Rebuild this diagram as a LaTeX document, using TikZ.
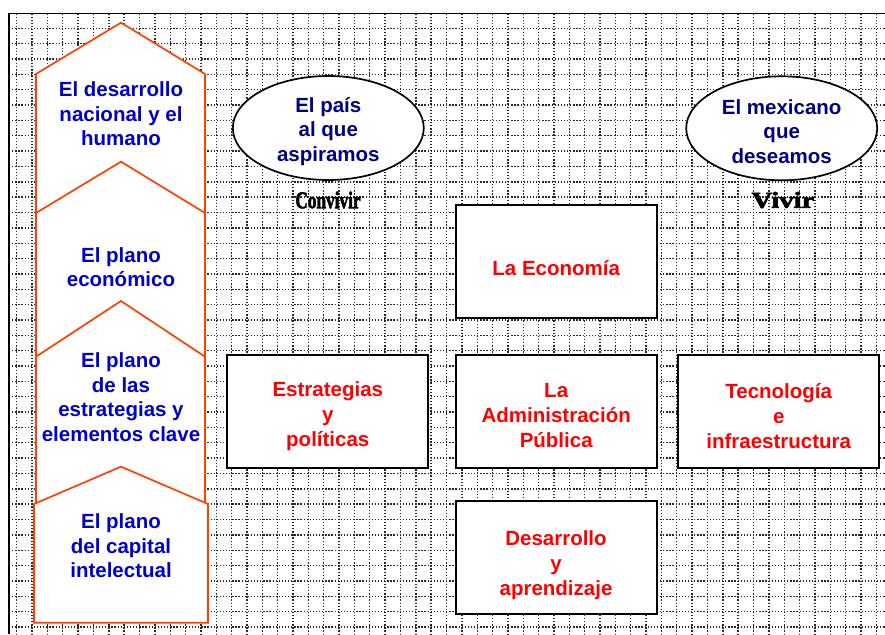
\documentclass[tikz,border=0pt]{standalone}
\usepackage{fontspec}
\setmainfont{Liberation Sans}
\newfontfamily\decofont[FakeBold=2.5]{Liberation Serif}
\usetikzlibrary{shapes.geometric}
\definecolor{gridc}{RGB}{40,40,40}
\definecolor{shapec}{RGB}{255,64,0}
\definecolor{lblue}{RGB}{0,0,205}
\definecolor{navyc}{RGB}{0,0,128}
\definecolor{redc}{RGB}{255,0,0}
\begin{document}
\begin{tikzpicture}[x=1pt,y=-1pt,
  gridline/.style={draw=gridc,line width=1.4pt,dash pattern=on 1.3pt off 1.8pt},
  pent/.style={draw=shapec,fill=white,line width=1.7pt,line join=miter},
  bluetxt/.style={text=lblue,font=\fontsize{20.5}{24.6}\selectfont\bfseries,align=center,inner sep=0pt},
  navytxt/.style={text=navyc,font=\fontsize{20.5}{24.6}\selectfont\bfseries,align=center,inner sep=0pt},
  redtxt/.style={text=redc,font=\fontsize{20.5}{25}\selectfont\bfseries,align=center,inner sep=0pt},
  boxnode/.style={draw=black,fill=white,line width=2pt,minimum width=201pt,minimum height=113pt,inner sep=0pt},
  ellnode/.style={ellipse,draw=black,fill=white,line width=1.7pt,minimum width=191pt,minimum height=104pt,inner sep=0pt},
  decotxt/.style={font=\decofont\bfseries\fontsize{24}{24}\selectfont,inner sep=0pt}
]
\useasboundingbox (0,0) rectangle (885,634);
\fill[white] (0,0) rectangle (885,634);
% grid
\begin{scope}
\clip (9,13.5) rectangle (885,634);
\foreach \i in {0,...,57} \draw[gridline] ({16.7+15.35*\i},13.5) -- ({16.7+15.35*\i},634);
\foreach \j in {0,...,40} \draw[gridline] (9,{28.3+15.35*\j}) -- (885,{28.3+15.35*\j});
\end{scope}
\draw[line width=1.6pt] (9,634) -- (9,13.5) -- (885,13.5);

% left column of stacked arrows
\draw[pent] (36,74) -- (121,22.7) -- (205,74) -- (205,213) -- (36,213) -- cycle;
\draw[pent] (36,213) -- (121,161.7) -- (205,213) -- (205,356.7) -- (36,356.7) -- cycle;
\draw[pent] (36,356.7) -- (121,301) -- (205,356.7) -- (205,504) -- (36,504) -- cycle;
\draw[pent] (34,504) -- (121,466.7) -- (208,504) -- (208,622.7) -- (34,622.7) -- cycle;

\node[bluetxt] (l1) at (121,114) {El desarrollo\\nacional y el\\humano};
\node[bluetxt] (l2) at (121,267) {El plano\\económico};
\node[bluetxt] (l3) at (121,397) {El plano\\de las\\estrategias y\\elementos clave};
\node[bluetxt] (l4) at (121,546) {El plano\\del capital\\intelectual};

% ellipses
\node[ellnode] (e1) at (328.3,128) {};
\node[navytxt] (e1t) at (328.3,131.5) {El país\\al que\\aspiramos};
\node[ellnode] (e2) at (781.7,128.3) {};
\node[navytxt] (e2t) at (781.7,131.5) {El mexicano\\que\\deseamos};

\node[decotxt] (conv) at (328,200) {\scalebox{0.72}[1]{Convivir}};
\node[decotxt] (viv) at (783,200) {\scalebox{1.2}[0.95]{Vivir}};

% boxes
\node[boxnode] (eco) at (556.2,261.3) {};
\node[redtxt] (ecot) at (556.2,268) {La Economía};
\node[boxnode] (est) at (327.8,411) {};
\node[redtxt] (estt) at (327.8,416) {Estrategias\\y\\políticas};
\node[boxnode] (adm) at (556.2,411) {};
\node[redtxt] (admt) at (556.2,416) {La\\Administración\\Pública};
\node[boxnode] (tec) at (778.7,411) {};
\node[redtxt] (tect) at (778.7,416) {Tecnología\\e\\infraestructura};
\node[boxnode] (des) at (556,557.5) {};
\node[redtxt] (dest) at (556,565) {Desarrollo\\y\\aprendizaje};
\end{tikzpicture}
\end{document}
